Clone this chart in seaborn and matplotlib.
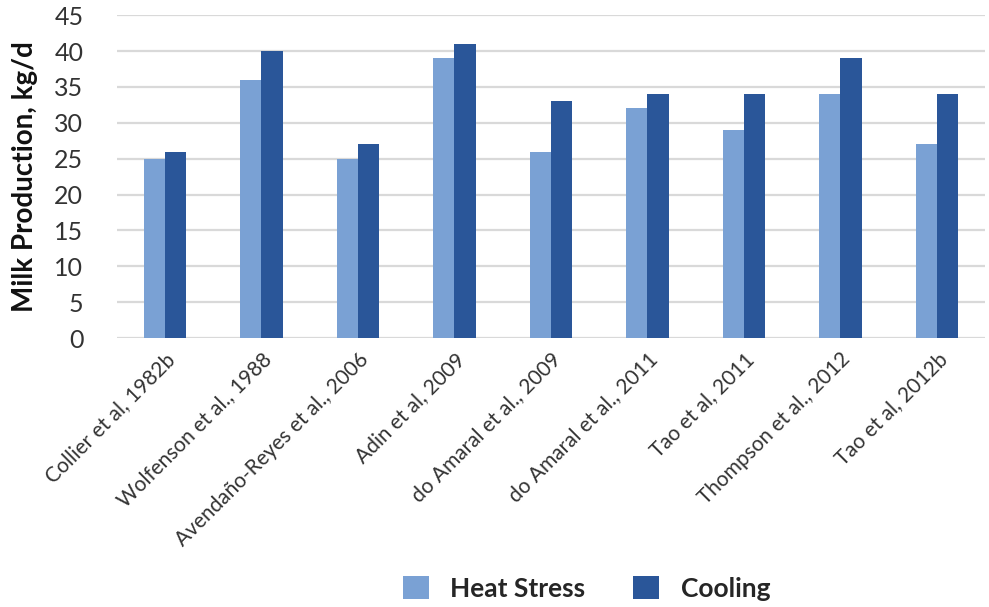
import matplotlib
matplotlib.use("Agg")
import matplotlib.pyplot as plt
import seaborn as sns
import pandas as pd

studies = ["Collier et al, 1982b", "Wolfenson et al., 1988", "Avendaño-Reyes et al., 2006",
           "Adin et al, 2009", "do Amaral et al., 2009", "do Amaral et al., 2011",
           "Tao et al, 2011", "Thompson et al., 2012", "Tao et al, 2012b"]
heat_stress = [25, 36, 25, 39, 26, 32, 29, 34, 27]
cooling = [26, 40, 27, 41, 33, 34, 34, 39, 34]
series = ["Heat Stress", "Cooling"]
colors = ["#7AA1D4", "#2A5699"]
yticks = [0, 5, 10, 15, 20, 25, 30, 35, 40, 45]

df = pd.DataFrame({
    "Study": studies * 2,
    "Condition": [series[0]] * len(studies) + [series[1]] * len(studies),
    "Value": heat_stress + cooling,
})

sns.set_theme(style="white")
plt.rcParams['font.family'] = ['Lato', 'DejaVu Sans']

fig = plt.figure(figsize=(9.89, 6.07), dpi=100)
ax = fig.add_axes([0.118, 0.443, 0.878, 0.532])

sns.barplot(data=df, x="Study", y="Value", hue="Condition", hue_order=series,
            palette=colors, saturation=1, width=0.44, gap=0, linewidth=0, ax=ax, legend=True)

ax.set_ylim(0, 45)
ax.set_yticks(yticks)
ax.set_xlim(-0.5, len(studies) - 0.5)
ax.yaxis.grid(True, color="#d9d9d9", linewidth=1.6)
ax.set_axisbelow(True)
for s in ax.spines.values():
    s.set_visible(False)
ax.tick_params(axis="both", length=0)
ax.tick_params(axis="y", labelsize=18, labelcolor="#333333", pad=24)
ax.set_xticks(range(len(studies)))
ax.set_xticklabels(studies, rotation=45, ha="right", rotation_mode="anchor",
                   fontsize=15, color="#333333")
ax.tick_params(axis="x", pad=8)
ax.set_xlabel("")
ax.set_ylabel("Milk Production, kg/d", fontsize=20, fontweight="bold", color="#111111", labelpad=12)

handles, labels = ax.get_legend_handles_labels()
ax.get_legend().remove()
fig.legend(handles, labels, loc="center", bbox_to_anchor=(0.593, 0.031), ncol=2,
           frameon=False, prop={"size": 19, "weight": "bold"}, handlelength=1.0,
           handleheight=1.0, handletextpad=0.8, columnspacing=1.8)

fig.savefig("out.png", dpi=100)
